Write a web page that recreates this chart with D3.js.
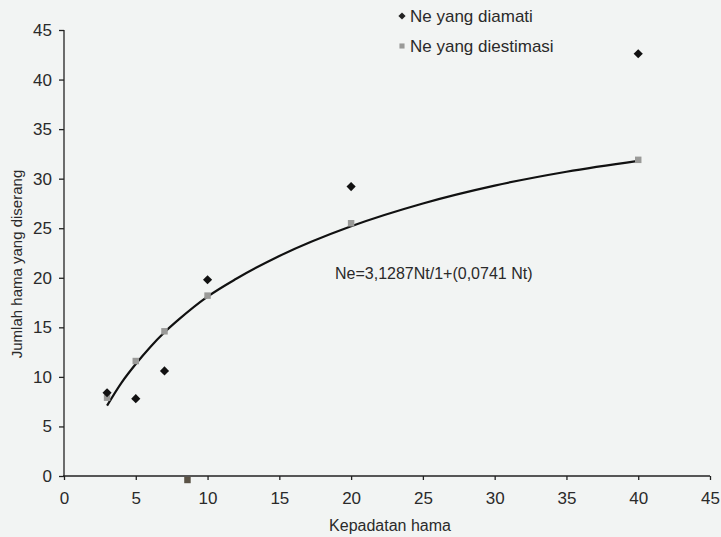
<!DOCTYPE html>
<html>
<head>
<meta charset="utf-8">
<script src="https://cdn.jsdelivr.net/npm/d3@7"></script>
<style>
  html, body { margin: 0; padding: 0; background: #f2f4f3; }
  svg { display: block; font-family: "Liberation Sans", Arial, sans-serif; }
</style>
</head>
<body>
<div id="chart"></div>
<script>
// observed vs estimated Ne against pest density
const obsX = [3, 5, 7, 10, 20, 40];
const obsY = [8.4, 7.8, 10.6, 19.8, 29.2, 42.6];
const estX = [3, 5, 7, 10, 20, 40, 8.6];
const estY = [7.9, 11.6, 14.6, 18.2, 25.5, 31.9, -0.4];
// fitted curve
const fitX = [3, 4, 5, 6, 7, 8, 10, 12, 15, 20, 25, 30, 35, 40];
const fitY = [7.1, 9.4, 11.3, 13.0, 14.5, 15.8, 18.1, 19.9, 22.2, 25.2, 27.5, 29.3, 30.7, 31.8];
const xTicks = [0, 5, 10, 15, 20, 25, 30, 35, 40, 45];
const yTicks = [0, 5, 10, 15, 20, 25, 30, 35, 40, 45];
const legendLabels = ['Ne yang diamati', 'Ne yang diestimasi'];

const W = 721, H = 537;
const svg = d3.select('#chart').append('svg').attr('width', W).attr('height', H);

const x = d3.scaleLinear().domain([0, 45]).range([64, 710]);
const y = d3.scaleLinear().domain([0, 45]).range([476, 30]);

// axes
const xAxis = svg.append('g').attr('transform', `translate(0,${y(0)})`)
  .call(d3.axisBottom(x).tickValues(xTicks).tickSize(4).tickPadding(12));
const yAxis = svg.append('g').attr('transform', `translate(${x(0)},0)`)
  .call(d3.axisLeft(y).tickValues(yTicks).tickSize(5).tickPadding(7));
[xAxis, yAxis].forEach(a => {
  a.selectAll('path, line').attr('stroke', '#222').attr('stroke-width', 1.3);
  a.selectAll('text').attr('fill', '#2a2a2a').style('font-size', '17px');
  a.select('.domain').attr('d', null);
});
xAxis.append('line').attr('x1', x(0) - 1).attr('x2', x(45)).attr('stroke', '#222').attr('stroke-width', 1.3);
yAxis.append('line').attr('y1', y(0)).attr('y2', y(45)).attr('stroke', '#222').attr('stroke-width', 1.3);

// axis titles
svg.append('text').attr('x', 390).attr('y', 531).attr('text-anchor', 'middle')
  .style('font-size', '16px').attr('fill', '#2a2a2a').text('Kepadatan hama');
svg.append('text').attr('transform', 'translate(22,264) rotate(-90)').attr('text-anchor', 'middle')
  .style('font-size', '15px').attr('fill', '#2a2a2a').text('Jumlah hama yang diserang');

// fitted curve
const line = d3.line().x(d => x(d[0])).y(d => y(d[1])).curve(d3.curveMonotoneX);
svg.append('path').datum(d3.zip(fitX, fitY)).attr('d', line)
  .attr('fill', 'none').attr('stroke', '#111').attr('stroke-width', 2.2);

// points
const sq = d3.symbol().type(d3.symbolSquare).size(42);
svg.append('g').selectAll('path').data(d3.zip(estX, estY)).join('path')
  .attr('d', sq).attr('transform', d => `translate(${x(d[0])},${y(d[1])})`)
  .attr('fill', (d, i) => i === 6 ? '#5a5245' : '#9a9a98');
svg.append('g').selectAll('path').data(d3.zip(obsX, obsY)).join('path')
  .attr('d', sq).attr('transform', d => `translate(${x(d[0])},${y(d[1])}) rotate(45)`)
  .attr('fill', '#111');

// equation
svg.append('text').attr('x', 335).attr('y', 279).style('font-size', '16px').attr('fill', '#2a2a2a')
  .text('Ne=3,1287Nt/1+(0,0741 Nt)');

// legend
const lg = svg.append('g').attr('transform', 'translate(402,16)');
lg.append('path').attr('d', d3.symbol().type(d3.symbolSquare).size(26)).attr('fill', '#222')
  .attr('transform', 'rotate(45)');
lg.append('path').attr('d', d3.symbol().type(d3.symbolSquare).size(26)).attr('fill', '#9a9a98')
  .attr('transform', 'translate(0,30)');
lg.selectAll('text').data(legendLabels).join('text')
  .attr('x', 8).attr('y', (d, i) => i * 30 + 6).style('font-size', '17px').attr('fill', '#2a2a2a')
  .text(d => d);
</script>
</body>
</html>
